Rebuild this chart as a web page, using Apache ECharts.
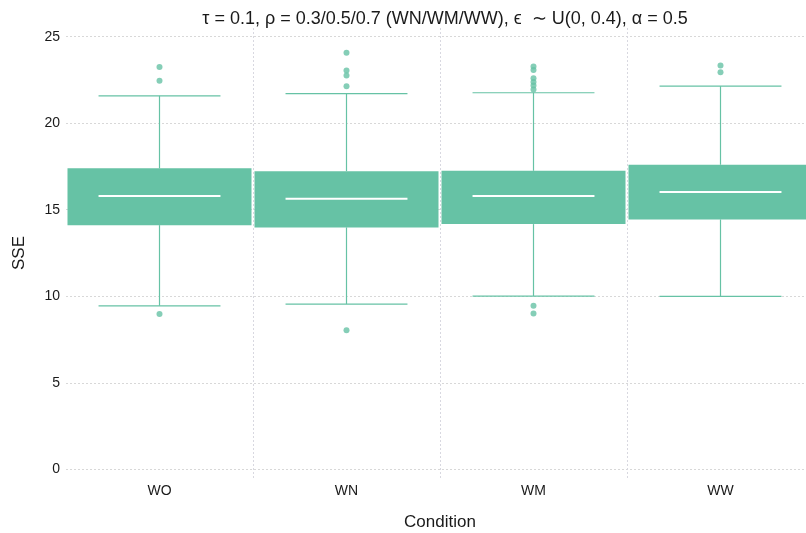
<!DOCTYPE html>
<html>
<head>
<meta charset="utf-8">
<script src="https://cdn.jsdelivr.net/npm/echarts@6/dist/echarts.min.js"></script>
<style>html,body{margin:0;padding:0;background:#fff;}#c{width:806px;height:533px;}</style>
</head>
<body>
<div id="c"></div>
<script>
var categories = ['WO', 'WN', 'WM', 'WW'];
var lowerWhisker = [9.45, 9.55, 10.01, 9.99];
var q1 = [14.11, 13.98, 14.17, 14.44];
var median = [15.79, 15.63, 15.79, 16.02];
var q3 = [17.39, 17.23, 17.25, 17.60];
var upperWhisker = [21.58, 21.71, 21.76, 22.14];
var outliersWO = [23.24, 22.45, 8.97];
var outliersWN = [24.07, 23.05, 22.76, 22.14, 8.03];
var outliersWM = [23.28, 23.08, 22.60, 22.38, 22.18, 21.95, 9.45, 9.01];
var outliersWW = [23.34, 22.95];
var yTicks = [0, 5, 10, 15, 20, 25];

var outlierLists = [outliersWO, outliersWN, outliersWM, outliersWW];
var boxData = categories.map(function (c, i) {
  return [i, lowerWhisker[i], q1[i], median[i], q3[i], upperWhisker[i]];
});
var outlierData = [];
outlierLists.forEach(function (list, i) {
  list.forEach(function (v) { outlierData.push([i, v]); });
});

var COLOR = '#66c2a5';
var FONT = 'Liberation Sans, Arial, sans-serif';

function renderBox(params, api) {
  var idx = api.value(0);
  var band = api.size([1, 0])[0];
  var boxW = band * 0.984;
  var capW = band * 0.652;
  var pLow = api.coord([idx, api.value(1)]);
  var pQ1 = api.coord([idx, api.value(2)]);
  var pMed = api.coord([idx, api.value(3)]);
  var pQ3 = api.coord([idx, api.value(4)]);
  var pHigh = api.coord([idx, api.value(5)]);
  var cx = pMed[0];
  var lineStyle = { stroke: COLOR, lineWidth: 1.2 };
  return {
    type: 'group',
    children: [
      { type: 'line', shape: { x1: cx, y1: pHigh[1], x2: cx, y2: pQ3[1] }, style: lineStyle },
      { type: 'line', shape: { x1: cx, y1: pQ1[1], x2: cx, y2: pLow[1] }, style: lineStyle },
      { type: 'line', shape: { x1: cx - capW / 2, y1: pHigh[1], x2: cx + capW / 2, y2: pHigh[1] }, style: lineStyle },
      { type: 'line', shape: { x1: cx - capW / 2, y1: pLow[1], x2: cx + capW / 2, y2: pLow[1] }, style: lineStyle },
      { type: 'rect', shape: { x: cx - boxW / 2, y: pQ3[1], width: boxW, height: pQ1[1] - pQ3[1] }, style: { fill: COLOR } },
      { type: 'line', shape: { x1: cx - capW / 2, y1: pMed[1], x2: cx + capW / 2, y2: pMed[1] }, style: { stroke: '#ffffff', lineWidth: 2 } }
    ]
  };
}

var chart = echarts.init(document.getElementById('c'), null, { renderer: 'canvas' });
chart.setOption({
  animation: false,
  backgroundColor: '#ffffff',
  textStyle: { fontFamily: FONT },
  title: {
    text: 'τ = 0.1, ρ = 0.3/0.5/0.7 (WN/WM/WW), ϵ  ∼ U(0, 0.4), α = 0.5',
    left: 440,
    top: 5,
    textAlign: 'center',
    textStyle: { fontSize: 18, fontWeight: 'normal', color: '#1a1a1a', fontFamily: FONT }
  },
  grid: { left: 66, top: 28, right: -8, bottom: 55, containLabel: false, outerBoundsMode: 'none' },
  xAxis: {
    type: 'category',
    data: categories,
    boundaryGap: true,
    name: 'Condition',
    nameLocation: 'middle',
    nameGap: 36,
    nameTextStyle: { fontSize: 17, color: '#1a1a1a', fontFamily: FONT },
    axisLine: { show: false },
    axisTick: { show: false },
    axisLabel: { margin: 6, fontSize: 14, color: '#1a1a1a', fontFamily: FONT },
    splitLine: { show: true, showMinLine: false, showMaxLine: false, lineStyle: { color: '#d8d8e0', type: [2, 2], width: 1 } }
  },
  yAxis: {
    type: 'value',
    min: -0.5,
    max: 25.5,
    name: 'SSE',
    nameLocation: 'middle',
    nameGap: 38,
    nameTextStyle: { fontSize: 17, color: '#1a1a1a', fontFamily: FONT },
    axisLine: { show: false },
    axisTick: { show: false, customValues: yTicks },
    axisLabel: { customValues: yTicks, margin: 6, fontSize: 14, color: '#1a1a1a', fontFamily: FONT },
    splitLine: { show: true, lineStyle: { color: '#d8d8d8', type: [2, 2], width: 1 } }
  },
  series: [
    {
      type: 'custom',
      renderItem: renderBox,
      encode: { x: 0, y: [1, 2, 3, 4, 5] },
      data: boxData,
      z: 2
    },
    {
      type: 'scatter',
      data: outlierData,
      symbolSize: 6,
      itemStyle: { color: COLOR },
      z: 3
    }
  ]
});
</script>
</body>
</html>
